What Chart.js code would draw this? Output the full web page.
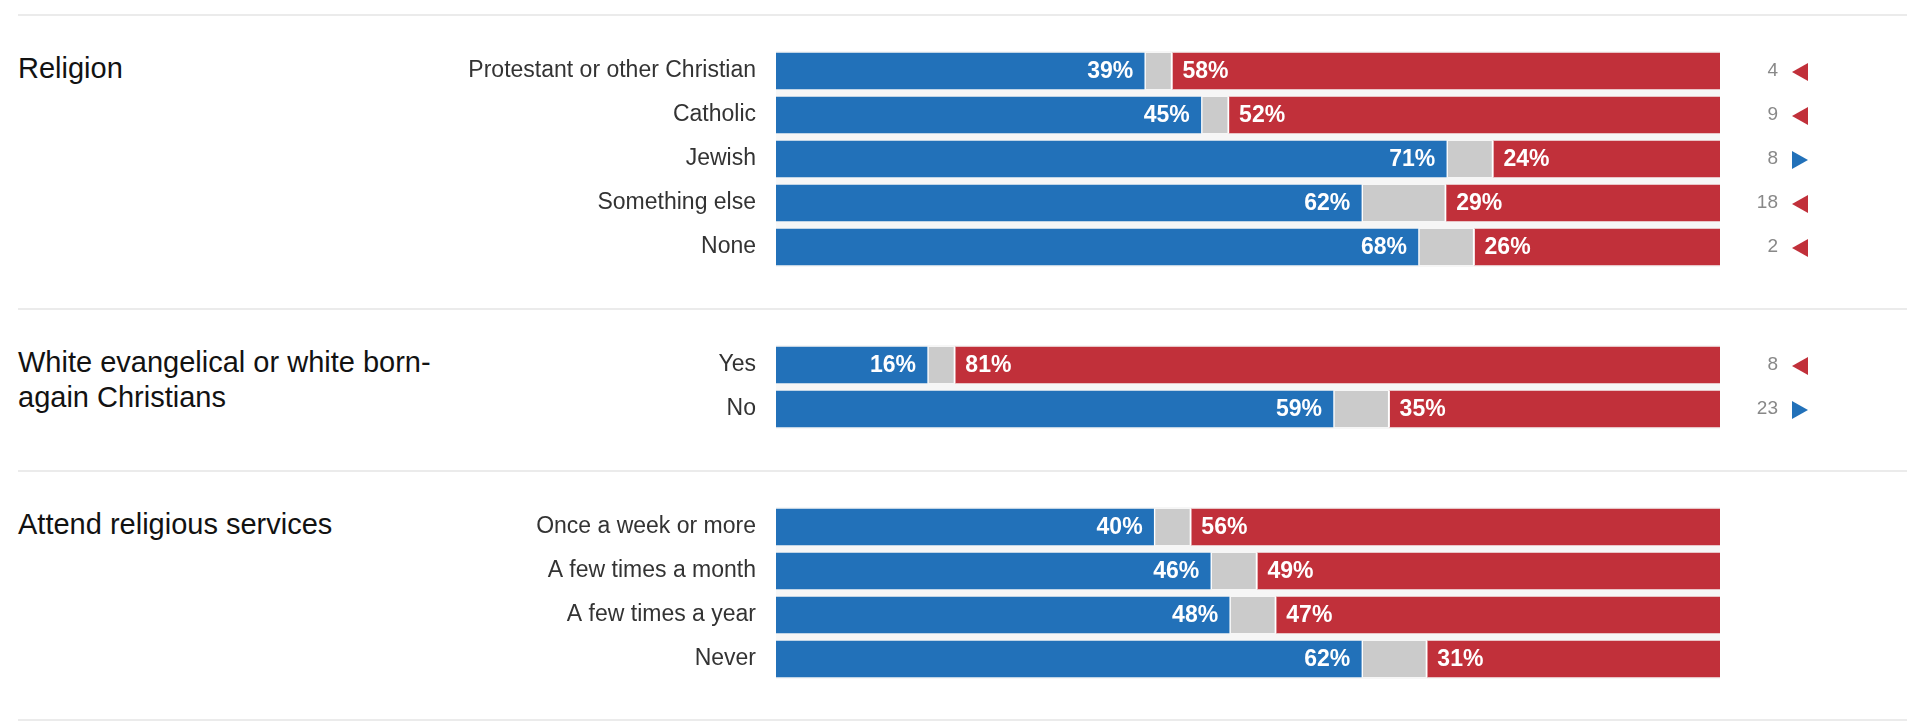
<!DOCTYPE html>
<html>

<head>
  <title>Vote by religion</title>
  <script src="https://cdn.jsdelivr.net/npm/chart.js@4.4.1/dist/chart.umd.min.js"></script>
  <style>
    body {
      margin: 0;
      padding: 14px 0 0 0;
      background-color: #fff;
      font-family: "Liberation Sans", Arial, sans-serif;
      overflow: hidden;
    }

    .group {
      position: relative;
      margin: 0 13px 0 18px;
      border-top: 2px solid #ebebeb;
      padding: 33px 0 39px 0;
    }

    .group.last {
      border-bottom: 2px solid #ebebeb;
      padding-bottom: 38px;
    }

    .group h2 {
      position: absolute;
      left: 0;
      top: 35px;
      width: 450px;
      margin: 0;
      font-size: 29px;
      line-height: 35px;
      font-weight: normal;
      color: #121212;
    }

    .chart-box {
      position: relative;
      margin-left: -18px;
      width: 1920px;
    }
  </style>
</head>

<body>
  <div class="group">
    <h2>Religion</h2>
    <div class="chart-box" style="height: 220px"><canvas id="religionChart"></canvas></div>
  </div>
  <div class="group">
    <h2>White evangelical or white born-again Christians</h2>
    <div class="chart-box" style="height: 88px"><canvas id="evangChart"></canvas></div>
  </div>
  <div class="group last">
    <h2>Attend religious services</h2>
    <div class="chart-box" style="height: 176px"><canvas id="attendChart"></canvas></div>
  </div>

  <script>
    // data
    const religionLabels = ['Protestant or other Christian', 'Catholic', 'Jewish', 'Something else', 'None'];
    const religionDem = [39, 45, 71, 62, 68];
    const religionRep = [58, 52, 24, 29, 26];
    const religionShift = [4, 9, 8, 18, 2];
    const religionShiftDir = ['R', 'R', 'D', 'R', 'R'];

    const evangLabels = ['Yes', 'No'];
    const evangDem = [16, 59];
    const evangRep = [81, 35];
    const evangShift = [8, 23];
    const evangShiftDir = ['R', 'D'];

    const attendLabels = ['Once a week or more', 'A few times a month', 'A few times a year', 'Never'];
    const attendDem = [40, 46, 48, 62];
    const attendRep = [56, 49, 47, 31];

    const BLUE = '#2271b9';
    const RED = '#c1303a';
    const GRAY = '#cbcbcb';
    const FONT = '"Liberation Sans", Arial, sans-serif';

    // light track behind the bars
    const trackPlugin = {
      id: 'track',
      beforeDatasetsDraw(chart) {
        const meta = chart.getDatasetMeta(0);
        const first = meta.data[0];
        const last = meta.data[meta.data.length - 1];
        const ctx = chart.ctx;
        ctx.save();
        ctx.fillStyle = '#f6f6f6';
        ctx.fillRect(chart.chartArea.left, first.y - 20, chart.chartArea.right - chart.chartArea.left, last.y - first.y + 40);
        ctx.restore();
      }
    };

    // percent labels inside bars + shift numbers / arrows on the right
    const labelPlugin = {
      id: 'barLabels',
      afterDatasetsDraw(chart, args, opts) {
        const ctx = chart.ctx;
        const dem = chart.getDatasetMeta(0).data;
        const rep = chart.getDatasetMeta(2).data;
        const right = chart.chartArea.right;
        ctx.save();
        ctx.textBaseline = 'middle';
        ctx.font = 'bold 23px ' + FONT;
        ctx.fillStyle = '#fff';
        dem.forEach((bar, i) => {
          ctx.textAlign = 'right';
          ctx.fillText(chart.data.datasets[0].data[i] + '%', bar.x - 11, bar.y + 1);
          ctx.textAlign = 'left';
          ctx.fillText(chart.data.datasets[2].data[i] + '%', rep[i].base + 10, rep[i].y + 1);
        });
        if (opts.shift) {
          ctx.font = '19px ' + FONT;
          dem.forEach((bar, i) => {
            ctx.fillStyle = '#888';
            ctx.textAlign = 'right';
            ctx.fillText(opts.shift[i], right + 58, bar.y);
            const x0 = right + 72, x1 = right + 88, y = bar.y + 1;
            ctx.beginPath();
            if (opts.dir[i] === 'R') {
              ctx.fillStyle = RED;
              ctx.moveTo(x0, y);
              ctx.lineTo(x1, y - 9);
              ctx.lineTo(x1, y + 9);
            } else {
              ctx.fillStyle = BLUE;
              ctx.moveTo(x0, y - 9);
              ctx.lineTo(x0, y + 9);
              ctx.lineTo(x1, y);
            }
            ctx.closePath();
            ctx.fill();
          });
        }
        ctx.restore();
      }
    };

    const makeChart = (id, labels, dem, rep, shift, dir) => {
      const other = dem.map((d, i) => 100 - d - rep[i]);
      const common = {
        barThickness: 36,
        borderSkipped: false,
        borderColor: '#fff',
      };
      return new Chart(document.getElementById(id), {
        type: 'bar',
        data: {
          labels: labels,
          datasets: [
            Object.assign({ label: 'Biden', data: dem, backgroundColor: BLUE, borderWidth: 0 }, common),
            Object.assign({ label: 'Other', data: other, backgroundColor: GRAY, borderWidth: { left: 2, right: 2, top: 0, bottom: 0 } }, common),
            Object.assign({ label: 'Trump', data: rep, backgroundColor: RED, borderWidth: 0 }, common),
          ],
        },
        options: {
          indexAxis: 'y',
          responsive: true,
          maintainAspectRatio: false,
          animation: false,
          layout: { padding: { left: 0, right: 200, top: 0, bottom: 0 } },
          plugins: {
            legend: { display: false },
            tooltip: { enabled: false },
            barLabels: { shift: shift, dir: dir },
          },
          scales: {
            x: {
              stacked: true,
              min: 0,
              max: 100,
              display: false,
            },
            y: {
              stacked: true,
              grid: { display: false, drawTicks: false },
              border: { display: false },
              afterFit: (scale) => {
                scale.width = 776;
                scale.paddingTop = 0;
                scale.paddingBottom = 0;
              },
              ticks: {
                padding: 20,
                color: '#333',
                font: { family: FONT, size: 23 },
              },
            },
          },
        },
        plugins: [trackPlugin, labelPlugin],
      });
    };

    makeChart('religionChart', religionLabels, religionDem, religionRep, religionShift, religionShiftDir);
    makeChart('evangChart', evangLabels, evangDem, evangRep, evangShift, evangShiftDir);
    makeChart('attendChart', attendLabels, attendDem, attendRep, null, null);
  </script>
</body>

</html>
